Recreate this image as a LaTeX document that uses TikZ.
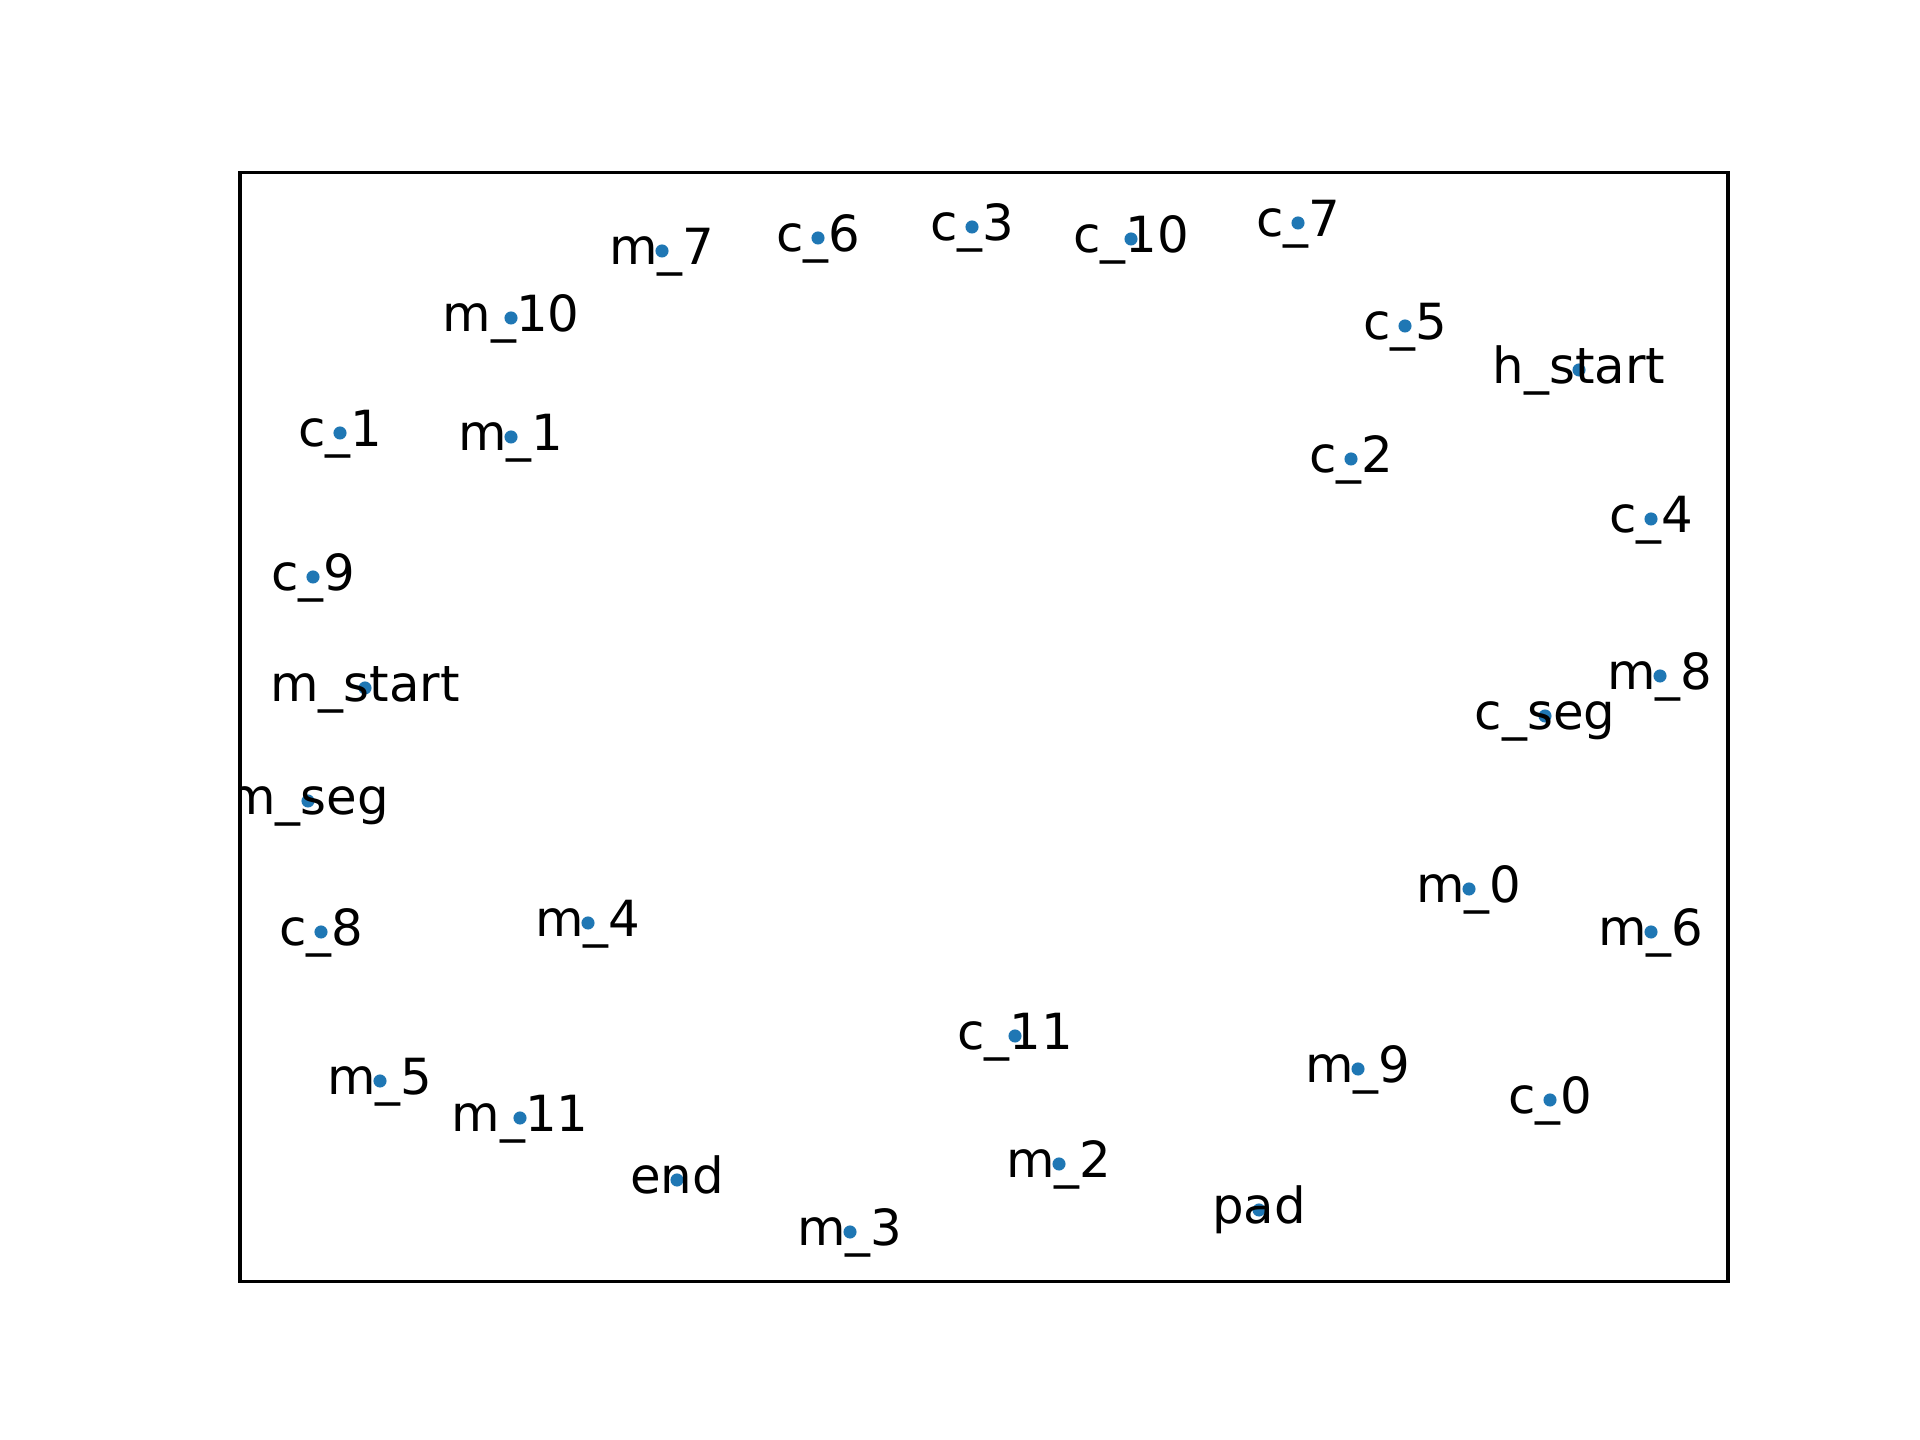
\documentclass[tikz,border=0pt]{standalone}
\usepackage{fontspec}
\setmainfont{DejaVu Sans}
\usepackage{tikz}
\definecolor{dotblue}{HTML}{1F77B4}

\begin{document}
\begin{tikzpicture}[x=0.00846667cm, y=-0.00846667cm,
    pt/.style={circle, fill=dotblue, inner sep=0pt, minimum size=3.16pt},
    lbl/.style={anchor=base, inner sep=0pt, yshift=-3.2pt, font=\fontsize{12}{14}\selectfont}]
    \useasboundingbox (0, 0) rectangle (1920, 1440);
    \coordinate (fnw) at (240, 172.8);
    \coordinate (fse) at (1728, 1281.6);
    \begin{scope}
        \clip (fnw) rectangle (fse);
        % points
        \node[pt] (m7) at (662, 251) {};
        \node[pt] (c6) at (818, 238) {};
        \node[pt] (c3) at (972, 227) {};
        \node[pt] (c10) at (1131, 239) {};
        \node[pt] (c7) at (1298, 223) {};
        \node[pt] (m10) at (511, 318) {};
        \node[pt] (c5) at (1405, 326) {};
        \node[pt] (hstart) at (1579, 370) {};
        \node[pt] (c1) at (340, 433) {};
        \node[pt] (m1) at (511, 437) {};
        \node[pt] (c2) at (1351, 459) {};
        \node[pt] (c4) at (1651, 519) {};
        \node[pt] (c9) at (313, 577) {};
        \node[pt] (mstart) at (365, 688) {};
        \node[pt] (m8) at (1660, 676) {};
        \node[pt] (cseg) at (1545, 716) {};
        \node[pt] (mseg) at (308, 801) {};
        \node[pt] (m0) at (1469, 889) {};
        \node[pt] (m6) at (1651, 932) {};
        \node[pt] (c8) at (321, 932) {};
        \node[pt] (m4) at (588, 923) {};
        \node[pt] (c11) at (1015, 1036) {};
        \node[pt] (m9) at (1358, 1069) {};
        \node[pt] (c0) at (1550, 1100) {};
        \node[pt] (m5) at (380, 1081) {};
        \node[pt] (m11) at (520, 1118) {};
        \node[pt] (m2) at (1059, 1164) {};
        \node[pt] (end) at (677, 1180) {};
        \node[pt] (pad) at (1259, 1210) {};
        \node[pt] (m3) at (850, 1232) {};
        % labels
        \node[lbl] (m7l) at (m7) {m\_7};
        \node[lbl] (c6l) at (c6) {c\_6};
        \node[lbl] (c3l) at (c3) {c\_3};
        \node[lbl] (c10l) at (c10) {c\_10};
        \node[lbl] (c7l) at (c7) {c\_7};
        \node[lbl] (m10l) at (m10) {m\_10};
        \node[lbl] (c5l) at (c5) {c\_5};
        \node[lbl] (hstartl) at (hstart) {h\_start};
        \node[lbl] (c1l) at (c1) {c\_1};
        \node[lbl] (m1l) at (m1) {m\_1};
        \node[lbl] (c2l) at (c2) {c\_2};
        \node[lbl] (c4l) at (c4) {c\_4};
        \node[lbl] (c9l) at (c9) {c\_9};
        \node[lbl] (mstartl) at (mstart) {m\_start};
        \node[lbl] (m8l) at (m8) {m\_8};
        \node[lbl] (csegl) at (cseg) {c\_seg};
        \node[lbl] (msegl) at (mseg) {m\_seg};
        \node[lbl] (m0l) at (m0) {m\_0};
        \node[lbl] (m6l) at (m6) {m\_6};
        \node[lbl] (c8l) at (c8) {c\_8};
        \node[lbl] (m4l) at (m4) {m\_4};
        \node[lbl] (c11l) at (c11) {c\_11};
        \node[lbl] (m9l) at (m9) {m\_9};
        \node[lbl] (c0l) at (c0) {c\_0};
        \node[lbl] (m5l) at (m5) {m\_5};
        \node[lbl] (m11l) at (m11) {m\_11};
        \node[lbl] (m2l) at (m2) {m\_2};
        \node[lbl] (endl) at (end) {end};
        \node[lbl] (padl) at (pad) {pad};
        \node[lbl] (m3l) at (m3) {m\_3};
    \end{scope}
    \draw[line width=0.8pt] (fnw) rectangle (fse);
\end{tikzpicture}
\end{document}
